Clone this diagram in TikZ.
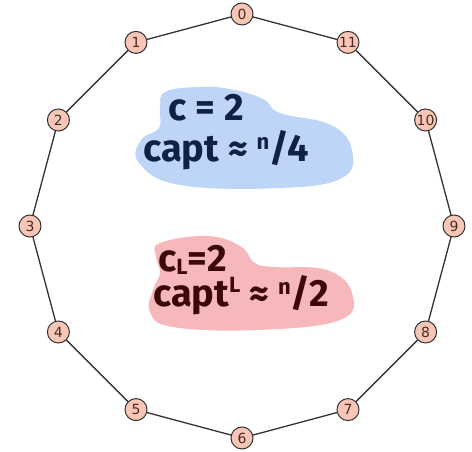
\documentclass[tikz,border=0pt]{standalone}
\usepackage{fontspec}
\setmainfont{DejaVu Sans}
\newfontfamily\handfont{Fira Sans}
\usepackage{xcolor}
\definecolor{vtxc}{HTML}{F8C6B6}
\definecolor{edgec}{HTML}{333333}
\definecolor{labc}{HTML}{4A2A26}
\definecolor{bluebg}{HTML}{BED5F8}
\definecolor{bluetx}{HTML}{0F2246}
\definecolor{redbg}{HTML}{F6B8BA}
\definecolor{redtx}{HTML}{3C0808}
\usetikzlibrary{calc}
\tikzset{
  vtx/.style={circle,draw=edgec,line width=1pt,fill=vtxc,minimum size=22pt,inner sep=0pt,text=labc,font=\fontsize{14}{14}\selectfont},
  edg/.style={draw=edgec,line width=1.3pt},
  hand/.style={font=\handfont\bfseries\fontsize{38}{40}\selectfont,anchor=base west,inner sep=0pt,text height=24pt,text depth=4pt},
}
\newcommand\sm[1]{{\fontsize{22}{22}\selectfont #1}}
\newcommand\hfr[2]{\smash{\raisebox{12pt}{\sm{#1}}}/#2}

\begin{document}
\begin{tikzpicture}[x=1pt,y=-1pt]
  \useasboundingbox (0,0) rectangle (472,452);
  % blobs
  \fill[bluebg] plot[smooth cycle,tension=0.7] coordinates {(165,92) (197,87) (230,89) (263,99) (280,113) (331,125) (352,150) (342,178) (280,188) (180,185) (139,163) (141,140) (159,128) (160,108)};
  \fill[redbg] plot[smooth cycle,tension=0.7] coordinates {(160,243) (207,236) (240,246) (255,263) (275,267) (327,270) (352,293) (340,320) (257,330) (173,327) (150,312) (153,290) (160,273) (156,257)};
  % polygon
  \foreach \k in {0,...,11}
    \node[vtx] (v\k) at ($(242,226)+(270-30*\k:212)$) {\k};
  \foreach \k [evaluate=\k as \l using {int(mod(\k+1,12))}] in {0,...,11}
    \draw[edg] (v\k) -- (v\l);
  % labels
  \node[hand,text=bluetx] (cb) at (168,121) {c = 2};
  \node[hand,text=bluetx] (capb) at (143,161) {capt ≈ \hfr{n}{4}};
  \node[hand,text=redtx] (cr) at (158,271) {c\smash{\raisebox{-3pt}{\sm{L}}}=2};
  \node[hand,text=redtx] (capr) at (153,306) {capt\smash{\raisebox{14pt}{\sm{L}}} ≈ \hfr{n}{2}};
\end{tikzpicture}
\end{document}
